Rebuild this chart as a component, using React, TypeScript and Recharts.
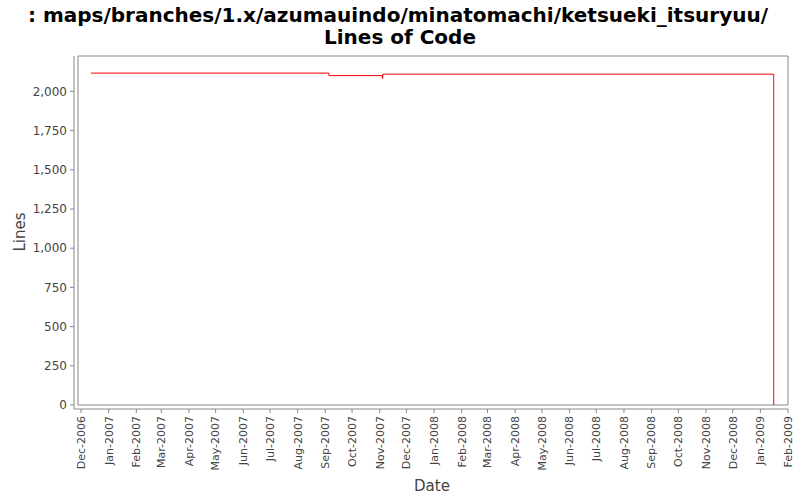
import React from "react"
import { LineChart, Line, XAxis, YAxis, ReferenceArea } from "recharts"

// commit dates and line counts
const commitDates = ["2006-12-12", "2007-09-05", "2007-11-04T00:00", "2007-11-04T12:00", "2009-01-16"]
const lineCounts = [2117, 2101, 2083, 2110, 0]

const monthLabels = [
  "Dec-2006", "Jan-2007", "Feb-2007", "Mar-2007", "Apr-2007", "May-2007", "Jun-2007",
  "Jul-2007", "Aug-2007", "Sep-2007", "Oct-2007", "Nov-2007", "Dec-2007", "Jan-2008",
  "Feb-2008", "Mar-2008", "Apr-2008", "May-2008", "Jun-2008", "Jul-2008", "Aug-2008",
  "Sep-2008", "Oct-2008", "Nov-2008", "Dec-2008", "Jan-2009", "Feb-2009",
]
const yTicks = [0, 250, 500, 750, 1000, 1250, 1500, 1750, 2000]

const MONTHS = ["Jan", "Feb", "Mar", "Apr", "May", "Jun", "Jul", "Aug", "Sep", "Oct", "Nov", "Dec"]
const DAY = 86400000

const toMs = (s: string) => new Date(s + (s.includes("T") ? "Z" : "T00:00Z")).getTime()
const labelToMs = (l: string) => {
  const [m, y] = l.split("-")
  return Date.UTC(Number(y), MONTHS.indexOf(m), 1)
}

const data = commitDates.map((d, i) => ({ t: toMs(d), loc: lineCounts[i] }))
const xTicks = monthLabels.map(labelToMs)
const labelByMs = new Map(xTicks.map((t, i) => [t, monthLabels[i]]))

const xMin = xTicks[0] - 3.4 * DAY
const xMax = xTicks[xTicks.length - 1]
const yMax = 2226

const FONT = "'DejaVu Sans', sans-serif"

const DateTick = ({ x, y, payload }: any) => (
  <text
    x={x}
    y={y}
    transform={`rotate(-90, ${x}, ${y})`}
    textAnchor="end"
    dy="0.35em"
    fontSize={11}
    fontFamily={FONT}
    fill="#444"
  >
    {labelByMs.get(payload.value)}
  </text>
)

export default function App() {
  return (
    <div style={{ position: "absolute", left: 0, top: 0, width: 800, height: 500, background: "#fff" }}>
      <LineChart width={800} height={500} data={data} margin={{ top: 56, right: 12, bottom: 0, left: 0 }}>
        <XAxis
          dataKey="t"
          type="number"
          scale="time"
          domain={[xMin, xMax]}
          ticks={xTicks}
          interval={0}
          tick={<DateTick />}
          tickSize={4}
          tickMargin={3}
          height={91}
          padding={{ left: 4, right: 0 }}
          stroke="#888"
          allowDataOverflow
        />
        <YAxis
          type="number"
          domain={[0, yMax]}
          ticks={yTicks}
          interval={0}
          width={74}
          tickSize={4}
          tickMargin={3}
          padding={{ top: 0, bottom: 4 }}
          stroke="#888"
          tick={{ fontSize: 12, fill: "#444", fontFamily: FONT }}
          tickFormatter={(v: number) => v.toLocaleString("en-US")}
          allowDataOverflow
        />
        <ReferenceArea x1={xMin} x2={xMax} y1={0} y2={yMax} fill="none" stroke="#888" strokeWidth={1} fillOpacity={0} />
        <Line
          type="stepAfter"
          dataKey="loc"
          stroke="#ff0000"
          strokeWidth={1}
          dot={false}
          isAnimationActive={false}
        />
      </LineChart>
      <svg width={800} height={500} style={{ position: "absolute", left: 0, top: 0, pointerEvents: "none" }}>
        <text x={398} y={22} textAnchor="middle" fontSize={20} fontWeight="bold" fontFamily={FONT} fill="#000">
          : maps/branches/1.x/azumauindo/minatomachi/ketsueki_itsuryuu/
        </text>
        <text x={400} y={44} textAnchor="middle" fontSize={20} fontWeight="bold" fontFamily={FONT} fill="#000">
          Lines of Code
        </text>
        <text x={432} y={491} textAnchor="middle" fontSize={15} fontFamily={FONT} fill="#444">
          Date
        </text>
        <text
          x={25}
          y={232}
          textAnchor="middle"
          fontSize={15}
          fontFamily={FONT}
          fill="#444"
          transform="rotate(-90, 25, 232)"
        >
          Lines
        </text>
      </svg>
    </div>
  )
}
